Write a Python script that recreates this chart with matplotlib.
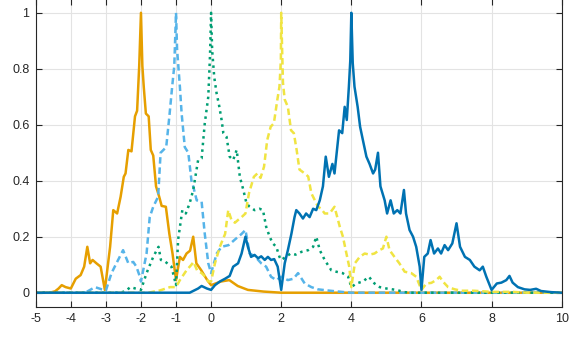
import matplotlib
matplotlib.use("Agg")
import matplotlib.pyplot as plt

# values
x_orange = [-5, -4.6, -4.45, -4.35, -4.26, -4.15, -4.0, -3.86, -3.72, -3.62, -3.53, -3.45, -3.38,
            -3.27, -3.15, -3.03, -2.88, -2.79, -2.68, -2.58, -2.49, -2.44, -2.36, -2.27, -2.17,
            -2.11, -2.05, -2.0, -1.96, -1.92, -1.86, -1.78, -1.72, -1.65, -1.57, -1.48, -1.41,
            -1.29, -1.19, -1.1, -1.0, -0.89, -0.8, -0.7, -0.6, -0.51, -0.42, -0.28, -0.11, 0.0,
            0.28, 0.52, 0.76, 1.05, 1.5, 2.0, 10]
y_orange = [0, 0, 0.005, 0.015, 0.027, 0.02, 0.015, 0.05, 0.063, 0.093, 0.164, 0.105, 0.117,
            0.105, 0.093, 0.01, 0.164, 0.295, 0.283, 0.343, 0.414, 0.426, 0.51, 0.505, 0.63,
            0.65, 0.81, 1.0, 0.81, 0.735, 0.64, 0.63, 0.51, 0.49, 0.38, 0.343, 0.31,
            0.307, 0.21, 0.14, 0.045, 0.128, 0.117, 0.14, 0.15, 0.2, 0.105, 0.08, 0.045, 0.027,
            0.04, 0.045, 0.024, 0.01, 0.004, 0, 0]

x_sky = [-5, -3.7, -3.55, -3.31, -3.12, -3.0, -2.84, -2.7, -2.51, -2.36, -2.22, -2.13, -2.03,
         -2.0, -1.84, -1.75, -1.65, -1.51, -1.44, -1.28, -1.19, -1.11, -1.05, -1.0, -0.97,
         -0.89, -0.84, -0.75, -0.65, -0.56, -0.51, -0.41, -0.27, -0.18, -0.08, 0.0, 0.16,
         0.3, 0.5, 0.68, 0.87, 0.98, 1.1, 1.25, 1.43, 1.57, 1.71, 1.86, 2.0, 2.19, 2.35,
         2.48, 2.67, 2.86, 3.05, 3.4, 3.8, 4.0, 10]
y_sky = [0, 0, 0.003, 0.02, 0.012, 0.008, 0.07, 0.105, 0.152, 0.105, 0.11, 0.093, 0.057,
         0.04, 0.14, 0.27, 0.307, 0.343, 0.5, 0.52, 0.63, 0.736, 0.81, 1.0, 0.87,
         0.736, 0.64, 0.52, 0.5, 0.4, 0.38, 0.33, 0.325, 0.21, 0.105, 0.07, 0.14,
         0.164, 0.17, 0.19, 0.21, 0.224, 0.14, 0.13, 0.105, 0.093, 0.057, 0.045, 0.057, 0.045, 0.05,
         0.07, 0.033, 0.02, 0.012, 0.007, 0.002, 0, 0]

x_green = [-5, -2.6, -2.45, -2.3, -2.16, -2.0, -1.84, -1.65, -1.5, -1.43, -1.3, -1.13, -1.0,
           -0.94, -0.82, -0.72, -0.61, -0.51, -0.37, -0.27, -0.18, -0.08, -0.03, 0.0, 0.03,
           0.09, 0.16, 0.22, 0.3, 0.35, 0.44, 0.53, 0.63, 0.73, 0.82, 0.92, 1.01, 1.1, 1.24,
           1.38, 1.48, 1.57, 1.67, 1.76, 1.86, 1.95, 2.0, 2.13, 2.27, 2.41, 2.58, 2.77, 2.91,
           3.0, 3.1, 3.24, 3.43, 3.57, 3.75, 3.91, 4.0, 4.14, 4.33, 4.5, 4.66, 4.81, 5.0,
           5.28, 5.52, 5.7, 10]
y_green = [0, 0, 0.005, 0.02, 0.015, 0.01, 0.07, 0.128, 0.164, 0.117, 0.11, 0.093, 0.027,
           0.19, 0.295, 0.283, 0.32, 0.367, 0.474, 0.48, 0.605, 0.7, 0.85, 1.0, 0.867,
           0.77, 0.71, 0.675, 0.617, 0.57, 0.557, 0.486, 0.474, 0.51, 0.414, 0.367, 0.319, 0.307, 0.295,
           0.3, 0.295, 0.236, 0.2, 0.176, 0.164, 0.128, 0.117, 0.128, 0.14, 0.136, 0.146, 0.152, 0.164,
           0.2, 0.152, 0.117, 0.08, 0.075, 0.07, 0.057, 0.02, 0.033, 0.04, 0.057, 0.033, 0.02, 0.015,
           0.01, 0.002, 0, 0]

x_yellow = [-5, -1.8, -1.46, -1.17, -1.0, -0.89, -0.7, -0.56, -0.5, -0.4, -0.27, -0.15, -0.08,
            0.0, 0.11, 0.25, 0.4, 0.49, 0.58, 0.68, 0.77, 0.87, 0.98, 1.08, 1.22, 1.32, 1.41,
            1.51, 1.6, 1.7, 1.79, 1.89, 1.95, 1.99, 2.0, 2.05, 2.1, 2.19, 2.28, 2.36, 2.44,
            2.52, 2.67, 2.77, 2.86, 2.96, 3.05, 3.14, 3.24, 3.38, 3.52, 3.67, 3.76, 3.86, 3.94,
            4.0, 4.1, 4.24, 4.38, 4.52, 4.66, 4.8, 4.9, 5.0, 5.09, 5.23, 5.37, 5.52, 5.71,
            5.85, 6.0, 6.14, 6.28, 6.42, 6.52, 6.61, 6.76, 6.95, 7.14, 7.5, 8.0, 8.6, 9.0, 10]
y_yellow = [0, 0, 0.008, 0.02, 0.02, 0.045, 0.08, 0.1, 0.11, 0.08, 0.07, 0.055, 0.04,
            0.04, 0.105, 0.164, 0.21, 0.295, 0.26, 0.25, 0.26, 0.27, 0.283, 0.355, 0.414, 0.426, 0.41,
            0.45, 0.545, 0.593, 0.605, 0.69, 0.736, 0.83, 1.0, 0.75, 0.69, 0.664, 0.58, 0.57, 0.51,
            0.44, 0.426, 0.415, 0.355, 0.33, 0.307, 0.3, 0.283, 0.283, 0.307, 0.236, 0.2, 0.14, 0.093,
            0.02, 0.105, 0.128, 0.14, 0.136, 0.14, 0.152, 0.158, 0.2, 0.152, 0.128, 0.105, 0.075, 0.07,
            0.057, 0.01, 0.033, 0.035, 0.045, 0.057, 0.04, 0.02, 0.012, 0.007, 0.007, 0.003, 0.003, 0, 0]

x_blue = [-5, -0.61, -0.37, -0.27, -0.12, 0.0, 0.11, 0.25, 0.4, 0.53, 0.63, 0.77, 0.87, 0.98,
          1.05, 1.14, 1.24, 1.34, 1.43, 1.53, 1.62, 1.71, 1.8, 1.9, 2.0, 2.1, 2.19, 2.29, 2.38,
          2.43, 2.52, 2.62, 2.71, 2.81, 2.91, 3.0, 3.1, 3.19, 3.27, 3.36, 3.46, 3.52, 3.65,
          3.74, 3.81, 3.87, 3.93, 3.97, 4.0, 4.04, 4.09, 4.18, 4.25, 4.33, 4.43, 4.52, 4.62,
          4.68, 4.76, 4.83, 4.95, 5.02, 5.12, 5.21, 5.31, 5.4, 5.5, 5.56, 5.66, 5.76, 5.85,
          5.95, 6.0, 6.08, 6.18, 6.26, 6.36, 6.47, 6.56, 6.66, 6.76, 6.88, 7.0, 7.1, 7.24,
          7.38, 7.51, 7.66, 7.75, 7.85, 8.0, 8.15, 8.28, 8.42, 8.51, 8.6, 8.75, 8.94, 9.1,
          9.27, 9.41, 9.7, 10]
y_blue = [0, 0, 0.015, 0.024, 0.015, 0.01, 0.027, 0.04, 0.05, 0.06, 0.093, 0.105, 0.14, 0.2,
          0.164, 0.128, 0.135, 0.123, 0.13, 0.117, 0.128, 0.117, 0.12, 0.093, 0.01, 0.105, 0.152, 0.21, 0.27,
          0.295, 0.283, 0.265, 0.283, 0.27, 0.3, 0.295, 0.33, 0.38, 0.486, 0.414, 0.46, 0.426, 0.58,
          0.57, 0.664, 0.617, 0.736, 0.83, 1.0, 0.82, 0.736, 0.664, 0.593, 0.545, 0.486, 0.46, 0.426,
          0.44, 0.5, 0.38, 0.33, 0.283, 0.33, 0.283, 0.295, 0.283, 0.367, 0.283, 0.224, 0.2, 0.164,
          0.093, 0.01, 0.128, 0.14, 0.188, 0.14, 0.158, 0.14, 0.17, 0.152, 0.176, 0.248, 0.164, 0.128,
          0.117, 0.093, 0.08, 0.093, 0.057, 0.01, 0.033, 0.036, 0.045, 0.06, 0.036, 0.02, 0.012, 0.01,
          0.014, 0.006, 0.002, 0]

xticks = [-5, -4, -3, -2, -1, 0, 2, 4, 6, 8, 10]
yticks = [0, 0.2, 0.4, 0.6, 0.8, 1]

plt.rcParams['font.family'] = ['Liberation Sans', 'DejaVu Sans']
ink = '#262626'

fig = plt.figure(figsize=(5.77, 3.38), dpi=100)
ax = fig.add_axes([0.062, 0.0926, 0.9115, 0.911])

ax.plot(x_orange, y_orange, color='#E69F00', lw=1.8)
ax.plot(x_sky, y_sky, color='#56B4E9', lw=1.8, dashes=(2.6, 1.5))
ax.plot(x_green, y_green, color='#009E73', lw=1.8, linestyle=':')
ax.plot(x_yellow, y_yellow, color='#F0E442', lw=1.8, dashes=(2.6, 1.5))
ax.plot(x_blue, y_blue, color='#0072B2', lw=1.8)

ax.set_xlim(-5, 10)
ax.set_ylim(-0.05, 1.05)
ax.set_xticks(xticks)
ax.set_xticklabels([str(t) for t in xticks])
ax.set_yticks(yticks)
ax.set_yticklabels(['0', '0.2', '0.4', '0.6', '0.8', '1'])

ax.grid(True, color='#e3e3e3', lw=0.8)
ax.set_axisbelow(True)
ax.tick_params(direction='in', length=4, width=0.8, top=True, right=True,
               color=ink, labelcolor=ink, labelsize=9, pad=4.5)
for s in ax.spines.values():
    s.set_color(ink)
    s.set_linewidth(0.8)

fig.savefig('out.png', dpi=100)
